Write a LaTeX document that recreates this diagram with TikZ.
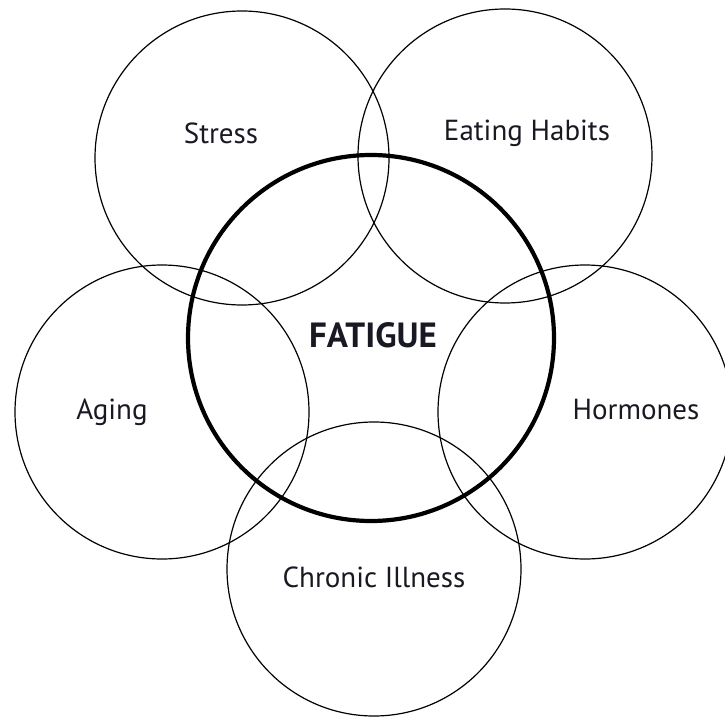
\documentclass[tikz,border=0pt]{standalone}
\usepackage{fontspec}
\setmainfont{PT Sans}
\usetikzlibrary{shapes.geometric}
\definecolor{inkDark}{RGB}{25,25,35}

\begin{document}
\begin{tikzpicture}[
  x=1pt, y=-1pt,
  factor/.style={
    circle,
    draw=black,
    line width=1.2pt,
    minimum size=294pt,
    inner sep=0pt
  },
  core/.style={
    circle,
    draw=black,
    line width=4.2pt,
    minimum size=366pt,
    inner sep=0pt
  },
  tag/.style={
    text=inkDark,
    font=\fontsize{29}{32}\selectfont
  },
  coretag/.style={
    text=inkDark,
    font=\fontsize{35}{38}\selectfont\bfseries
  }
]
\useasboundingbox (0,0) rectangle (725,719);

% outer circles
\node[factor] (stress) at (242,158) {};
\node[factor] (eating) at (505,156) {};
\node[factor] (aging) at (162,412) {};
\node[factor] (hormones) at (585,412) {};
\node[factor] (chronic) at (374,569) {};

% centre circle
\node[core] (fatigue) at (371,338) {};

% labels
\node[tag] (stressTxt) at (221,133) {Stress};
\node[tag] (eatingTxt) at (527,133) {Eating Habits};
\node[tag] (agingTxt) at (112,412) {Aging};
\node[tag] (hormonesTxt) at (636,410) {Hormones};
\node[tag] (chronicTxt) at (374,577) {Chronic Illness};
\node[coretag] (fatigueTxt) at (373,335) {FATIGUE};

\end{tikzpicture}
\end{document}
